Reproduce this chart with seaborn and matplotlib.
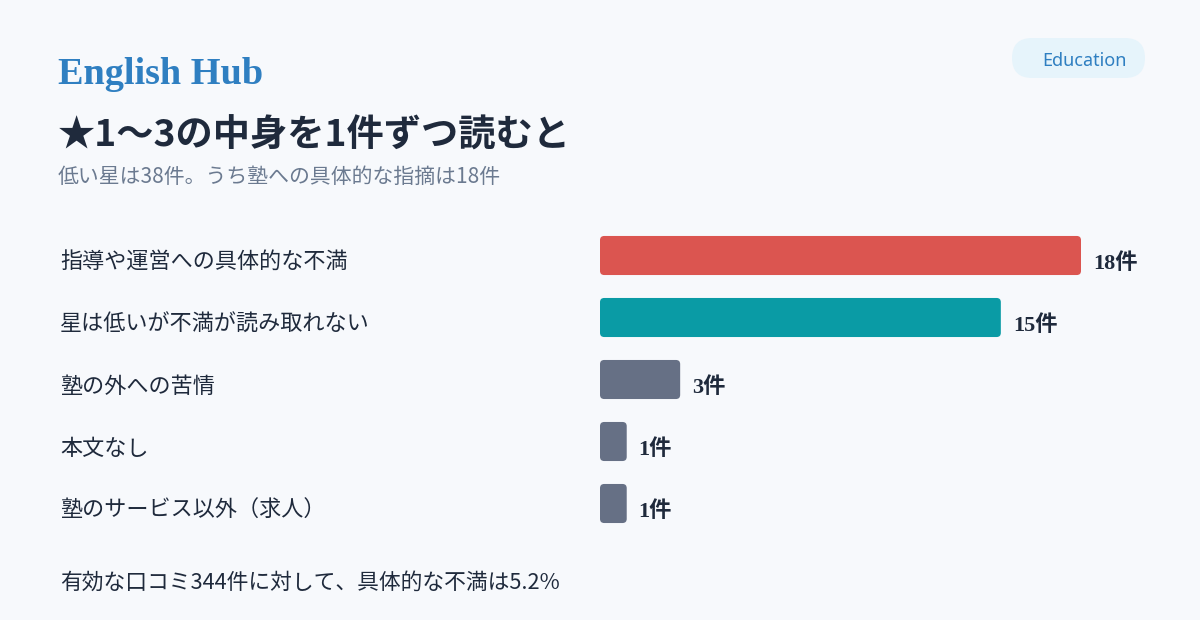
import seaborn as sns
import matplotlib.pyplot as plt
import pandas as pd
from matplotlib.patches import FancyBboxPatch

# data
categories = [
    '指導や運営への具体的な不満',
    '星は低いが不満が読み取れない',
    '塾の外への苦情',
    '本文なし',
    '塾のサービス以外（求人）',
]
counts = [18, 15, 3, 1, 1]
value_labels = ['18件', '15件', '3件', '1件', '1件']
bar_colors = ['#db5550', '#0a9ba5', '#667085', '#667085', '#667085']

brand = 'English Hub'
tag = 'Education'
title = '★1〜3の中身を1件ずつ読むと'
subtitle = '低い星は38件。うち塾への具体的な指摘は18件'
footer = '有効な口コミ344件に対して、具体的な不満は5.2%'

bg = '#f7f9fc'
ink = '#1f2a3c'
muted = '#6b7a90'
blue = '#2f7fc1'

sns.set_theme(style='white')
plt.rcParams['font.family'] = ['Noto Sans CJK JP', 'DejaVu Sans']

df = pd.DataFrame({'category': categories, 'count': counts})

fig = plt.figure(figsize=(12, 6.2), dpi=100, facecolor=bg)
ax = fig.add_axes([0.5, 1 - 534.5 / 620, 481 / 1200, 0.5])
ax.set_facecolor(bg)

sns.barplot(data=df, x='count', y='category', hue='category',
            palette=bar_colors, orient='h', width=0.63, legend=False, ax=ax)

ax.set_xlim(0, 18)
ax.set_ylim(4.5, -0.5)

# swap the plain bars for slightly rounded ones
for patch, color in zip(list(ax.patches), bar_colors):
    x0, y0 = patch.get_x(), patch.get_y()
    w, h = patch.get_width(), patch.get_height()
    patch.remove()
    ax.add_patch(FancyBboxPatch((x0, y0), w, h,
                                boxstyle='round,pad=0,rounding_size=0.16',
                                mutation_aspect=0.42, facecolor=color,
                                edgecolor='none', clip_on=False))

for i, (v, lab) in enumerate(zip(counts, value_labels)):
    ax.text(v + 0.45, i + 0.13, lab, ha='left', va='center', fontsize=16,
            fontweight='bold', color=ink, clip_on=False,
            family=['Liberation Serif', 'Noto Sans CJK JP'])

ax.set_xlabel('')
ax.set_ylabel('')
ax.set_xticks([])
ax.set_yticks([])
sns.despine(ax=ax, left=True, bottom=True)

# category labels on the left side of the figure
for i, cat in enumerate(categories):
    fig.text(60 / 1200, 1 - (263 + 62 * i) / 620, cat, ha='left', va='center',
             fontsize=15.9, color=ink)

fig.text(58 / 1200, 1 - 74 / 620, brand, ha='left', va='center', fontsize=27.5,
         fontweight='bold', color=blue, family=['Liberation Serif', 'DejaVu Serif'])
fig.text(58 / 1200, 1 - 136 / 620, title, ha='left', va='center', fontsize=26.8,
         fontweight='bold', color=ink)
fig.text(58 / 1200, 1 - 177 / 620, subtitle, ha='left', va='center', fontsize=15,
         color=muted)
fig.text(60 / 1200, 1 - 583 / 620, footer, ha='left', va='center', fontsize=15.7,
         color=ink)

# tag pill
pill = FancyBboxPatch((1012 / 1200, 1 - 78 / 620), 133 / 1200, 40 / 620,
                      boxstyle='round,pad=0,rounding_size=0.0167',
                      mutation_aspect=1200 / 620, transform=fig.transFigure,
                      facecolor='#e6f4fb', edgecolor='none')
fig.patches.append(pill)
fig.text(1084 / 1200, 1 - 61 / 620, tag, ha='center', va='center', fontsize=13,
         color=blue, family=['Noto Sans', 'DejaVu Sans'])

fig.savefig('out.png', dpi=100, facecolor=bg)
